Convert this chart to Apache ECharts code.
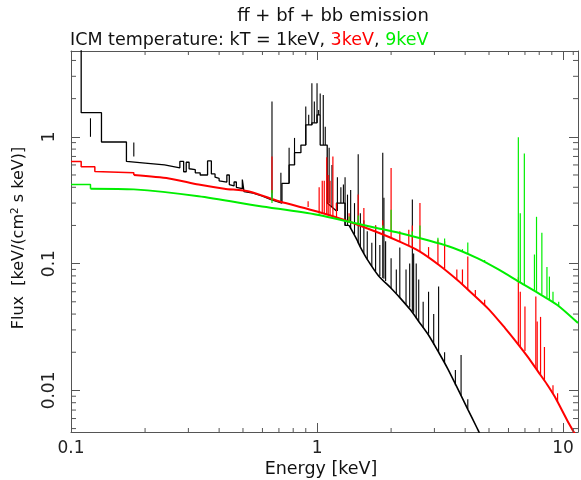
<!DOCTYPE html>
<html><head><meta charset="utf-8">
<script src="https://cdn.jsdelivr.net/npm/echarts@6/dist/echarts.min.js"></script>
<style>html,body{margin:0;padding:0;background:#fff}#c{width:581px;height:480px}</style>
</head><body><div id="c"></div>
<script>
const X_MIN = 0.1, X_MAX = 11.5, Y_MIN = 0.0047, Y_MAX = 4.75;
const xTickValues = [0.1, 1, 10];
const xTickLabels = ['0.1', '1', '10'];
const yTickValues = [0.01, 0.1, 1];
const yTickLabels = ['0.01', '0.1', '1'];
const xMinorTicks = [0.2,0.3,0.4,0.5,0.6,0.7,0.8,0.9,2,3,4,5,6,7,8,9,11];
const yMinorTicks = [0.005,0.006,0.007,0.008,0.009,0.02,0.03,0.04,0.05,0.06,0.07,0.08,0.09,0.2,0.3,0.4,0.5,0.6,0.7,0.8,0.9,2,3,4];

// kT = 1 keV (black): binned (stepped) part and smooth part, [E, flux]
const blackSteps = [
[0.1,6],[0.11,6],[0.11,1.55],[0.133,1.55],[0.133,0.91],[0.168,0.91],[0.168,0.64],[0.2,0.62],[0.24,0.6],[0.277,0.57],[0.277,0.64],[0.287,0.64],[0.287,0.53],[0.294,0.53],[0.294,0.63],[0.302,0.63],[0.302,0.56],[0.32,0.55],[0.32,0.52],[0.335,0.52],[0.335,0.5],[0.359,0.5],[0.359,0.645],[0.372,0.645],[0.372,0.51],[0.385,0.51],[0.385,0.48],[0.4,0.47],[0.4,0.45],[0.43,0.44],[0.43,0.5],[0.44,0.5],[0.44,0.42],[0.46,0.41],[0.46,0.44],[0.47,0.44],[0.47,0.4],[0.497,0.39],[0.497,0.46],[0.505,0.46],[0.505,0.37],[0.55,0.36],[0.6,0.34],[0.65,0.32],[0.72,0.3],[0.72,0.43],[0.77,0.43],[0.77,0.6],[0.81,0.6],[0.81,0.75],[0.86,0.75],[0.86,0.86],[0.9,0.86],[0.9,1.24],[0.953,1.24],[0.953,1.29],[1.0,1.29],[1.0,1.49],[1.03,1.49],[1.03,0.86],[1.1,0.86],[1.1,0.3],[1.2,0.26],[1.2,0.3],[1.3,0.3],[1.3,0.2],[1.35,0.2]
];
const blackSmooth = [
[1.35,0.2],[1.45,0.155],[1.5,0.135],[1.6,0.108],[1.78,0.08],[2.0,0.064],[2.15,0.055],[2.4,0.043],[2.59,0.035],[2.85,0.027],[3.12,0.02],[3.4,0.0148],[3.76,0.0100],[4.1,0.0071],[4.46,0.0051],[4.6,0.0045]
];
// emission lines [E, base, peak]
const blackLines = [
[0.12,1.0,1.4],[0.18,0.7,0.9],
[0.656,0.32,1.9],[0.713,0.3,0.52],[0.77,0.43,0.82],[0.81,0.6,0.98],[0.9,0.86,1.73],[0.925,1.24,1.49],[0.953,1.24,2.65],[0.975,1.29,1.9],[1.0,1.29,2.65],[1.015,1.49,1.63],[1.03,1.49,2.2],[1.06,0.86,2.14],[1.08,0.86,1.2],[1.12,0.3,0.82],[1.15,0.28,0.6],[1.21,0.26,0.48],[1.25,0.3,0.4],[1.28,0.3,0.42],[1.3,0.2,0.48],[1.33,0.2,0.35],[1.37,0.19,0.38],[1.42,0.17,0.3],[1.47,0.145,0.73],[1.5,0.135,0.25],[1.55,0.12,0.22],[1.6,0.108,0.18],[1.67,0.095,0.146],[1.73,0.087,0.2],[1.8,0.08,0.14],[1.85,0.077,0.75],[1.87,0.076,0.33],[1.9,0.073,0.15],[2.0,0.064,0.11],[2.1,0.058,0.09],[2.17,0.054,0.134],[2.3,0.048,0.09],[2.38,0.045,0.1],[2.44,0.042,0.32],[2.47,0.041,0.12],[2.53,0.037,0.1],[2.59,0.035,0.075],[2.7,0.031,0.05],[2.84,0.028,0.06],[2.98,0.023,0.04],[3.12,0.02,0.066],[3.3,0.0165,0.02],[3.65,0.011,0.0145],[3.85,0.0091,0.019],[4.1,0.0071,0.0085]
];

// kT = 3 keV (red)
const redSteps = [
[0.1,0.64],[0.11,0.64],[0.11,0.58],[0.125,0.58],[0.125,0.533],[0.18,0.52],[0.18,0.5]
];
const redSmooth = [
[0.18,0.5],[0.25,0.47],[0.33,0.42],[0.42,0.39],[0.53,0.37],[0.7,0.31],[1.0,0.258],[1.3,0.22],[1.78,0.175],[2.2,0.147],[2.59,0.126],[3.12,0.098],[3.76,0.073],[4.12,0.062],[4.97,0.044],[5.81,0.031],[6.58,0.023],[7.2,0.0183],[7.93,0.0140],[8.6,0.0112],[9.26,0.0089],[10.4,0.0058],[11.2,0.0045]
];
const redLines = [
[0.656,0.36,0.70],[0.92,0.28,0.31],[1.02,0.255,0.4],[1.05,0.25,0.45],[1.07,0.25,0.45],[1.095,0.245,0.69],[1.11,0.243,0.5],[1.13,0.24,0.45],[1.16,0.235,0.70],[1.2,0.23,0.3],[1.35,0.212,0.25],[1.47,0.2,0.35],[1.55,0.193,0.275],[1.73,0.178,0.2],[1.85,0.17,0.22],[2.0,0.16,0.567],[2.17,0.149,0.18],[2.36,0.138,0.185],[2.44,0.134,0.2],[2.62,0.125,0.3],[2.84,0.113,0.135],[3.1,0.099,0.155],[3.3,0.091,0.15],[3.7,0.075,0.09],[3.9,0.069,0.09],[4.1,0.062,0.114],[4.4,0.055,0.062],[4.8,0.047,0.052],[6.58,0.023,0.078],[6.7,0.022,0.06],[7.0,0.0205,0.046],[7.75,0.015,0.055],[7.85,0.0145,0.035],[8.1,0.0133,0.038],[8.4,0.012,0.022],[9.1,0.0094,0.011],[9.5,0.0082,0.0095]
];

// kT = 9 keV (green)
const greenSteps = [
[0.1,0.42],[0.12,0.42],[0.12,0.39]
];
const greenSmooth = [
[0.12,0.39],[0.18,0.385],[0.33,0.34],[0.58,0.285],[1.0,0.243],[1.78,0.189],[2.15,0.175],[3.42,0.137],[4.5,0.11],[5.46,0.09],[6.58,0.0725],[7.93,0.0585],[9.5,0.047],[11.5,0.034]
];
const greenLines = [
[0.656,0.3,0.38],[1.02,0.24,0.25],[1.35,0.215,0.235],[1.47,0.205,0.24],[1.85,0.185,0.2],[2.0,0.18,0.266],[2.44,0.165,0.18],[2.62,0.158,0.2],[3.1,0.145,0.16],[3.3,0.14,0.158],[3.9,0.125,0.13],[4.1,0.12,0.147],[4.8,0.105,0.107],[6.58,0.072,0.99],[6.7,0.071,0.25],[6.96,0.068,0.74],[7.65,0.062,0.118],[7.8,0.061,0.234],[8.2,0.057,0.175],[8.6,0.054,0.094],[8.8,0.052,0.079],[9.1,0.05,0.06],[9.6,0.046,0.05]
];

const FONT = 'DejaVu Sans';
const AXIS_COLOR = '#555';
const RED = '#ff0000', GREEN = '#00ee00', BLACK = '#000000';

function labelFor(values, labels) {
  return function (v) {
    for (let i = 0; i < values.length; i++) {
      if (Math.abs(Math.log10(v) - Math.log10(values[i])) < 1e-6) return labels[i];
    }
    return '';
  };
}

function contSeries(data, color, z, width, smooth) {
  return { type: 'line', data: data, showSymbol: false, symbol: 'none', z: z, silent: true,
    smooth: smooth ? 0.25 : false,
    lineStyle: { color: color, width: width }, animation: false, clip: true };
}
function spikeSeries(data, color, z, width) {
  return { type: 'custom', data: data, z: z, silent: true, clip: true, animation: false,
    encode: { x: 0, y: [1, 2] },
    renderItem: function (params, api) {
      const e = api.value(0);
      const p0 = api.coord([e, api.value(1)]);
      const p1 = api.coord([e, api.value(2)]);
      return { type: 'line', shape: { x1: p0[0], y1: p0[1], x2: p1[0], y2: p1[1] },
        style: { stroke: color, lineWidth: width } };
    } };
}
function minorXSeries() {
  return { type: 'custom', data: xMinorTicks.map(v => [v, Y_MIN]), z: 10, silent: true, animation: false,
    renderItem: function (params, api) {
      const v = api.value(0);
      const b = api.coord([v, Y_MIN]), t = api.coord([v, Y_MAX]);
      const s = { stroke: AXIS_COLOR, lineWidth: 1 };
      return { type: 'group', children: [
        { type: 'line', shape: { x1: b[0], y1: b[1], x2: b[0], y2: b[1] - 4 }, style: s },
        { type: 'line', shape: { x1: t[0], y1: t[1], x2: t[0], y2: t[1] + 4 }, style: s } ] };
    } };
}
function minorYSeries() {
  return { type: 'custom', data: yMinorTicks.map(v => [X_MIN, v]), z: 10, silent: true, animation: false,
    renderItem: function (params, api) {
      const v = api.value(1);
      const l = api.coord([X_MIN, v]), r = api.coord([X_MAX, v]);
      const s = { stroke: AXIS_COLOR, lineWidth: 1 };
      return { type: 'group', children: [
        { type: 'line', shape: { x1: l[0], y1: l[1], x2: l[0] + 5, y2: l[1] }, style: s },
        { type: 'line', shape: { x1: r[0], y1: r[1], x2: r[0] - 5, y2: r[1] }, style: s } ] };
    } };
}

const axisCommon = {
  axisLine: { show: true, onZero: false, lineStyle: { color: AXIS_COLOR, width: 1 } },
  axisTick: { show: true, inside: true, length: 9, lineStyle: { color: AXIS_COLOR } },
  splitLine: { show: false }, minorTick: { show: false }
};

const chart = echarts.init(document.getElementById('c'), null, { renderer: 'canvas' });
chart.setOption({
  animation: false,
  backgroundColor: '#fff',
  textStyle: { fontFamily: FONT },
  grid: { left: 71, right: 1, top: 51, bottom: 48, containLabel: false },
  title: [
    { text: 'ff + bf + bb emission', left: 328, top: 2, textAlign: 'center',
      textStyle: { fontFamily: FONT, fontSize: 18, fontWeight: 'normal', color: '#111' } },
    { text: '{k|ICM temperature: kT = 1keV, }{r|3keV}{k|, }{g|9keV}', left: 65, top: 26,
      textStyle: { fontFamily: FONT, fontSize: 17.5, fontWeight: 'normal', color: '#111',
        rich: { k: { fontFamily: FONT, fontSize: 17.5, color: '#111' },
                r: { fontFamily: FONT, fontSize: 17.5, color: RED },
                g: { fontFamily: FONT, fontSize: 17.5, color: GREEN } } } }
  ],
  xAxis: [
    Object.assign({ type: 'log', logBase: 10, min: X_MIN, max: X_MAX, position: 'bottom',
      axisLabel: { show: true, margin: 8, fontFamily: FONT, fontSize: 17, color: '#222',
        formatter: labelFor(xTickValues, xTickLabels), showMinLabel: true } }, axisCommon),
    Object.assign({ type: 'log', logBase: 10, min: X_MIN, max: X_MAX, position: 'top',
      axisLabel: { show: false } }, axisCommon)
  ],
  yAxis: [
    Object.assign({ type: 'log', logBase: 10, min: Y_MIN, max: Y_MAX, position: 'left',
      axisLabel: { show: true, margin: 13, rotate: 90, fontFamily: FONT, fontSize: 17, color: '#222',
        formatter: labelFor(yTickValues, yTickLabels) } }, axisCommon),
    Object.assign({ type: 'log', logBase: 10, min: Y_MIN, max: Y_MAX, position: 'right',
      axisLabel: { show: false } }, axisCommon)
  ],
  graphic: [
    { type: 'text', x: 321, y: 469, silent: true,
      style: { text: 'Energy [keV]', font: '17.5px "DejaVu Sans"', fill: '#111', align: 'center', verticalAlign: 'middle' } },
    { type: 'text', x: 19, y: 238, rotation: Math.PI / 2, silent: true,
      style: { text: 'Flux  [keV/(cm{s|2} s keV)]', fontFamily: FONT, fontSize: 16, fill: '#111',
        align: 'center', verticalAlign: 'middle',
        rich: { s: { fontFamily: FONT, fontSize: 10.5, fill: '#111', verticalAlign: 'top', padding: [0, 0, 7, 0] } } } }
  ],
  series: [
    contSeries(blackSteps, BLACK, 2, 1.3, false),
    contSeries(blackSmooth, BLACK, 2, 1.6, true),
    spikeSeries(blackLines, BLACK, 2, 1.1),
    contSeries(redSteps, RED, 3, 1.5, false),
    contSeries(redSmooth, RED, 3, 2, true),
    spikeSeries(redLines, RED, 3, 1.2),
    contSeries(greenSteps, GREEN, 4, 1.5, false),
    contSeries(greenSmooth, GREEN, 4, 2, true),
    spikeSeries(greenLines, GREEN, 4, 1.2),
    minorXSeries(),
    minorYSeries()
  ]
});
</script></body></html>
